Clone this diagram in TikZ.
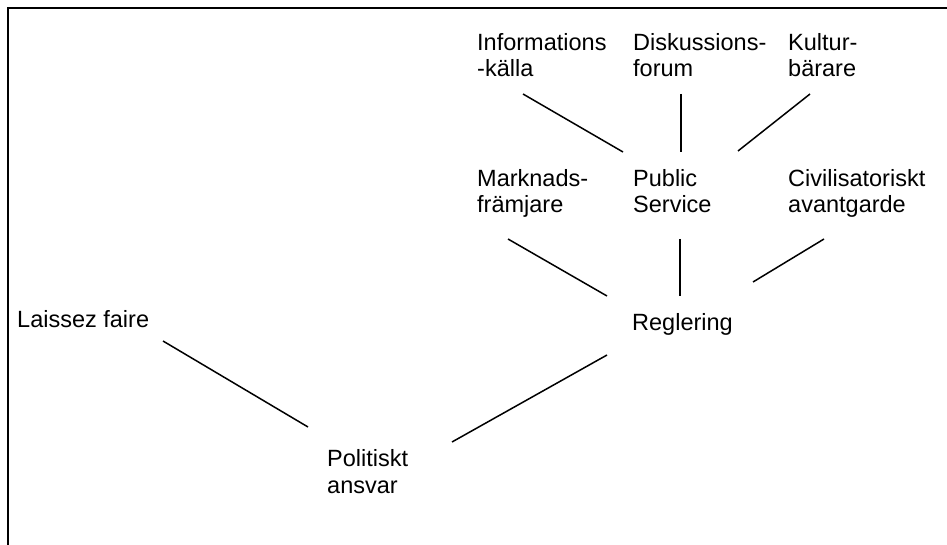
\documentclass[tikz,border=0pt]{standalone}
\usepackage{fontspec}
\setmainfont{Liberation Sans}
\usetikzlibrary{calc,positioning}

\begin{document}
\begin{tikzpicture}[
  x=1pt, y=-1pt,
  lbl/.style = {font=\fontsize{23.5}{26.5}\selectfont, inner sep=0pt,
                anchor=base west, align=left},
  ln/.style  = {line width=1.5pt},
  frm/.style = {line width=1.8pt},
]
\useasboundingbox[fill=white] (0,0) rectangle (947,545);

%% ---- frame ---------------------------------------------------------------
\draw[frm] (947,8) -- (8,8) -- (8,545);

%% ---- top row (base = last line) ------------------------------------------
\node[lbl] (info) at (477,77) {Informations\\-källa};
\node[lbl] (disk) at (633,77) {Diskussions-\\forum};
\node[lbl] (kult) at (788,77) {Kultur-\\bärare};

%% ---- middle row ----------------------------------------------------------
\node[lbl] (mark) at (477,213) {Marknads-\\främjare};
\node[lbl] (pub)  at (633,213) {Public\\Service};
\node[lbl] (civ)  at (788,213) {Civilisatoriskt\\avantgarde};

%% ---- lower part ----------------------------------------------------------
\node[lbl] (regl)  at (632,330) {Reglering};
\node[lbl] (laiss) at (17,327) {Laissez faire};
\node[lbl] (pol)   at (327,493) {Politiskt\\ansvar};

%% ---- connectors ----------------------------------------------------------
\draw[ln] ([shift={(46,17)}]info.base west) -- ([shift={(-10,-61)}]pub.base west);
\draw[ln] ([shift={(48,17)}]disk.base west) -- ([shift={(48,-61)}]pub.base west);
\draw[ln] ([shift={(22,17)}]kult.base west) -- ([shift={(105,-62)}]pub.base west);
\draw[ln] ([shift={(31,26)}]mark.base west) -- ([shift={(-25,-34)}]regl.base west);
\draw[ln] ([shift={(47,26)}]pub.base west) -- ([shift={(48,-34)}]regl.base west);
\draw[ln] ([shift={(36,26)}]civ.base west) -- ([shift={(121,-48)}]regl.base west);
\draw[ln] ([shift={(146,14)}]laiss.base west) -- ([shift={(-19,-66)}]pol.base west);
\draw[ln] ([shift={(-25,25)}]regl.base west) -- ([shift={(125,-51)}]pol.base west);

\end{tikzpicture}
\end{document}
